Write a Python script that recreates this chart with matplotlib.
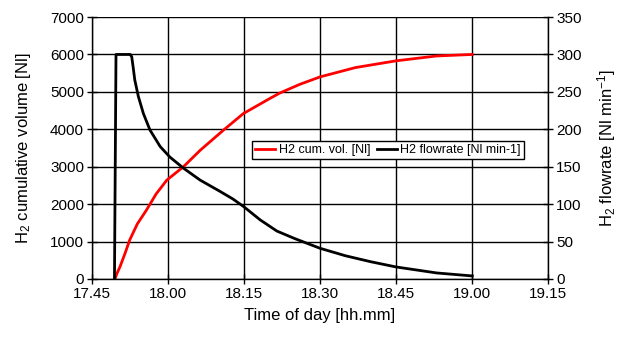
import matplotlib
matplotlib.use("Agg")
import matplotlib.pyplot as plt

plt.rcParams['font.family'] = ['Liberation Sans', 'DejaVu Sans']
plt.rcParams['mathtext.fontset'] = 'custom'
plt.rcParams['mathtext.rm'] = 'Liberation Sans'
plt.rcParams['mathtext.it'] = 'Liberation Sans'

# minutes since 17:45
tick_minutes = [0, 15, 30, 45, 60, 75, 90]
tick_labels = ["17.45", "18.00", "18.15", "18.30", "18.45", "19.00", "19.15"]

vol_t = [4.6, 5.0, 5.6, 6.6, 7.5, 9.0, 10.8, 12.7, 14.8, 18.1, 21.4, 26.0, 29.9, 35.2, 37.1, 41.0, 45.0, 52.0, 60.0, 68.0, 75.0]
vol_v = [0, 150, 330, 690, 1040, 1470, 1840, 2270, 2640, 3000, 3440, 3980, 4420, 4830, 4970, 5200, 5400, 5650, 5830, 5960, 6000]

flow_t = [4.5, 4.8, 7.6, 7.9, 8.2, 8.5, 9.2, 10.2, 11.5, 13.5, 15.4, 18.1, 21.4, 25.3, 27.8, 29.9, 33.2, 36.5, 40.0, 45.0, 50.0, 55.0, 60.0, 68.0, 75.0]
flow_v = [0, 300, 300, 297, 282, 266, 244, 221, 199, 177, 163, 148, 132, 117, 107, 97, 79, 64, 54, 41, 31, 23, 16, 8, 4]

fig = plt.figure(figsize=(6.32, 3.41), dpi=100)
ax = fig.add_axes([0.145, 0.182, 0.7226, 0.768])
ax2 = ax.twinx()

l1, = ax.plot(vol_t, vol_v, color='#ff0000', lw=2, label='H2 cum. vol. [Nl]')
l2, = ax2.plot(flow_t, flow_v, color='black', lw=2, label='H2 flowrate [Nl min-1]')

ax.set_xlim(0, 90)
ax.set_ylim(0, 7000)
ax2.set_ylim(0, 350)
ax.set_xticks(tick_minutes)
ax.set_xticklabels(tick_labels)
ax.set_yticks(range(0, 7001, 1000))
ax2.set_yticks(range(0, 351, 50))

ax.grid(True, color='black', lw=1)
ax.set_axisbelow(True)
for a in (ax, ax2):
    for s in a.spines.values():
        s.set_visible(False)
ax.spines['left'].set_visible(True)
ax.spines['bottom'].set_visible(True)
ax2.spines['right'].set_visible(True)
for sp in (ax.spines['left'], ax.spines['bottom'], ax2.spines['right']):
    sp.set_linewidth(1)

ax.tick_params(axis='both', direction='inout', length=7, width=1, labelsize=11, pad=2)
ax2.tick_params(axis='y', direction='inout', length=7, width=1, labelsize=11, pad=2)

ax.set_xlabel('Time of day [hh.mm]', fontsize=12, labelpad=5)
ax.set_ylabel('H$_2$ cumulative volume [Nl]', fontsize=12, labelpad=12)
ax2.set_ylabel('H$_2$ flowrate [Nl min$^{-1}$]', fontsize=12, labelpad=10)

leg = ax2.legend(handles=[l1, l2], ncol=2, loc='center', bbox_to_anchor=(0.649, 0.492),
                 fontsize=9, frameon=True, fancybox=False, edgecolor='black',
                 framealpha=1, handlelength=1.6, handletextpad=0.3, columnspacing=0.5,
                 borderpad=0.25, borderaxespad=0)
leg.get_frame().set_linewidth(1)

fig.savefig('out.png', dpi=100)
